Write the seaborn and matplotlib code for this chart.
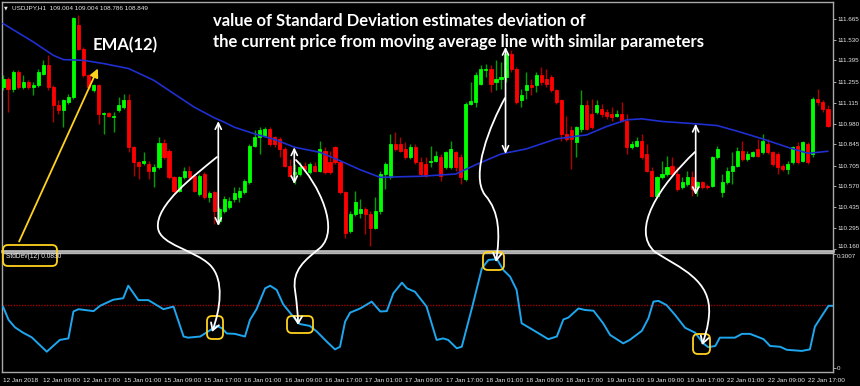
import numpy as np
import pandas as pd
import seaborn as sns
import matplotlib.pyplot as plt
from matplotlib.path import Path
from matplotlib.patches import FancyArrowPatch, FancyBboxPatch

# -----------------------
# Data (USDJPY H1)
# -----------------------
opens = [111.220, 111.275, 111.209, 111.319, 111.220, 111.253, 111.220, 111.231, 111.308, 111.363,
         111.220, 111.100, 111.067, 111.122, 111.155, 111.625, 111.472, 111.297, 111.198, 111.231,
         111.041, 111.050, 111.023, 111.067, 111.089, 111.133, 110.826, 110.728, 110.721, 110.717,
         110.673, 110.695, 110.852, 110.804, 110.629, 110.541, 110.629, 110.673, 110.640, 110.519,
         110.651, 110.498, 110.530, 110.344, 110.410, 110.432, 110.487, 110.502, 110.530, 110.596,
         110.837, 110.892, 110.903, 110.947, 110.892, 110.881, 110.815, 110.706, 110.651, 110.651,
         110.706, 110.662, 110.706, 110.673, 110.804, 110.728, 110.826, 110.728, 110.530, 110.279,
         110.388, 110.399, 110.421, 110.388, 110.300, 110.410, 110.651, 110.629, 110.848, 110.848,
         110.815, 110.760, 110.826, 110.728, 110.717, 110.728, 110.738, 110.760, 110.695, 110.695,
         110.793, 110.760, 110.618, 111.111, 111.122, 111.242, 111.330, 111.341, 111.253, 111.275,
         111.286, 111.439, 111.341, 111.133, 111.198, 111.231, 111.231, 111.297, 111.275, 111.286,
         111.198, 111.133, 110.914, 110.936, 110.859, 110.947, 111.100, 111.045, 111.056, 111.078,
         111.056, 111.045, 111.034, 111.045, 111.001, 110.826, 110.837, 110.870, 110.782, 110.673,
         110.508, 110.629, 110.651, 110.706, 110.651, 110.563, 110.585, 110.629, 110.563, 110.596,
         110.574, 110.574, 110.760, 110.530, 110.596, 110.673, 110.706, 110.804, 110.749, 110.771,
         110.815, 110.793, 110.848, 110.793, 110.782, 110.706, 110.684, 110.728, 110.837, 110.738,
         110.848, 110.782, 111.144, 111.122, 111.078]
closes = [111.275, 111.209, 111.319, 111.220, 111.253, 111.220, 111.231, 111.319, 111.363, 111.220,
          111.100, 111.067, 111.133, 111.155, 111.669, 111.472, 111.297, 111.220, 111.231, 111.045,
          111.050, 111.028, 111.032, 111.100, 111.133, 110.826, 110.728, 110.706, 110.738, 110.673,
          110.695, 110.852, 110.760, 110.629, 110.541, 110.629, 110.673, 110.629, 110.541, 110.640,
          110.498, 110.524, 110.410, 110.421, 110.487, 110.476, 110.524, 110.541, 110.607, 110.837,
          110.896, 110.936, 110.947, 110.848, 110.848, 110.815, 110.706, 110.640, 110.662, 110.695,
          110.684, 110.717, 110.673, 110.815, 110.662, 110.662, 110.728, 110.530, 110.268, 110.388,
          110.465, 110.421, 110.388, 110.300, 110.410, 110.651, 110.717, 110.848, 110.815, 110.804,
          110.760, 110.826, 110.728, 110.651, 110.640, 110.738, 110.771, 110.640, 110.793, 110.815,
          110.695, 110.629, 111.111, 111.126, 111.297, 111.341, 111.341, 111.242, 111.275, 111.286,
          111.439, 111.341, 111.122, 111.166, 111.231, 111.220, 111.297, 111.253, 111.242, 111.198,
          111.122, 110.914, 110.881, 110.881, 110.957, 111.100, 110.947, 110.957, 111.100, 111.045,
          111.034, 111.023, 111.045, 111.001, 110.826, 110.848, 110.870, 110.760, 110.673, 110.508,
          110.629, 110.651, 110.695, 110.651, 110.552, 110.596, 110.629, 110.552, 110.596, 110.563,
          110.563, 110.760, 110.815, 110.596, 110.673, 110.706, 110.804, 110.749, 110.782, 110.793,
          110.771, 110.870, 110.793, 110.717, 110.695, 110.684, 110.717, 110.826, 110.728, 110.859,
          110.728, 111.144, 111.122, 111.078, 110.968]
highs = [111.297, 111.286, 111.330, 111.330, 111.297, 111.264, 111.253, 111.341, 111.395, 111.428,
         111.231, 111.133, 111.144, 111.177, 111.680, 111.691, 111.483, 111.308, 111.242, 111.242,
         111.056, 111.056, 111.056, 111.155, 111.177, 111.177, 110.837, 110.738, 110.793, 110.738,
         110.717, 110.892, 110.881, 110.815, 110.640, 110.640, 110.695, 110.706, 110.651, 110.651,
         110.662, 110.541, 110.541, 110.432, 110.508, 110.498, 110.563, 110.563, 110.618, 110.848,
         110.936, 110.957, 110.957, 110.957, 110.903, 110.892, 110.826, 110.749, 110.717, 110.728,
         110.728, 110.728, 110.728, 110.870, 110.826, 110.804, 110.837, 110.738, 110.541, 110.410,
         110.541, 110.487, 110.432, 110.410, 110.498, 110.673, 110.728, 110.914, 110.925, 110.892,
         110.859, 110.848, 110.848, 110.760, 110.760, 110.837, 110.804, 110.782, 110.804, 110.870,
         110.804, 110.782, 111.122, 111.253, 111.319, 111.363, 111.374, 111.363, 111.395, 111.385,
         111.450, 111.461, 111.352, 111.209, 111.319, 111.275, 111.319, 111.352, 111.341, 111.297,
         111.209, 111.144, 111.034, 110.968, 110.968, 111.198, 111.133, 111.144, 111.133, 111.111,
         111.078, 111.089, 111.067, 111.122, 111.045, 110.870, 110.892, 110.914, 110.848, 110.695,
         110.640, 110.738, 110.771, 110.760, 110.695, 110.629, 110.673, 110.673, 110.607, 110.607,
         110.585, 110.771, 110.837, 110.651, 110.695, 110.793, 110.826, 110.870, 110.804, 110.804,
         110.881, 110.914, 110.881, 110.804, 110.793, 110.717, 110.738, 110.837, 110.859, 110.870,
         110.859, 111.155, 111.209, 111.133, 111.100]
lows = [111.198, 111.056, 111.187, 111.209, 111.209, 111.209, 111.166, 111.220, 111.297, 111.198,
        110.990, 111.045, 110.957, 111.111, 111.144, 111.461, 111.286, 111.209, 111.187, 110.979,
        110.914, 111.023, 110.925, 111.056, 111.078, 110.793, 110.640, 110.618, 110.712, 110.618,
        110.563, 110.684, 110.749, 110.618, 110.519, 110.530, 110.618, 110.618, 110.530, 110.508,
        110.487, 110.465, 110.322, 110.322, 110.399, 110.421, 110.465, 110.465, 110.519, 110.585,
        110.826, 110.782, 110.892, 110.837, 110.826, 110.760, 110.695, 110.629, 110.585, 110.640,
        110.673, 110.651, 110.662, 110.662, 110.651, 110.651, 110.717, 110.519, 110.235, 110.268,
        110.377, 110.366, 110.257, 110.180, 110.290, 110.388, 110.552, 110.618, 110.804, 110.793,
        110.749, 110.749, 110.717, 110.640, 110.629, 110.695, 110.728, 110.607, 110.684, 110.684,
        110.673, 110.585, 110.607, 111.100, 111.089, 111.231, 111.286, 111.187, 111.198, 111.209,
        111.253, 111.319, 111.111, 111.089, 111.144, 111.166, 111.187, 111.231, 111.220, 111.187,
        111.111, 110.870, 110.870, 110.684, 110.760, 110.925, 110.936, 110.947, 111.045, 111.023,
        111.012, 111.001, 111.023, 110.990, 110.782, 110.815, 110.826, 110.749, 110.662, 110.498,
        110.498, 110.618, 110.640, 110.640, 110.541, 110.552, 110.574, 110.508, 110.508, 110.552,
        110.552, 110.563, 110.749, 110.498, 110.585, 110.585, 110.695, 110.738, 110.738, 110.760,
        110.760, 110.782, 110.782, 110.706, 110.651, 110.673, 110.651, 110.717, 110.717, 110.728,
        110.717, 110.760, 111.100, 111.056, 110.957]

# moving average line, sampled along the bars
ema_bar = [0, 6, 10, 12, 16, 20, 25, 30, 33, 38, 42, 44, 46, 50, 54, 58, 63, 67, 71, 75,
           79, 83, 90, 94, 99, 104, 110, 116, 120, 124, 127, 131, 138, 142, 146, 151, 156, 160, 162, 164]
ema_val = [111.636, 111.516, 111.428, 111.400, 111.395, 111.374, 111.341, 111.264, 111.198, 111.089,
           111.019, 110.990, 110.957, 110.914, 110.877, 110.826, 110.793, 110.738, 110.679, 110.629,
           110.633, 110.636, 110.651, 110.712, 110.782, 110.815, 110.881, 110.907, 110.962, 111.006,
           111.012, 110.995, 110.979, 110.968, 110.931, 110.881, 110.826, 110.787, 110.793, 110.800]

# StdDev(12) indicator
sd_bar = [0.0, 1.1, 2.4, 4.0, 5.7, 8.7, 11.3, 13.0, 14.0, 15.0, 18.0, 19.3, 21.9, 23.9, 24.9, 26.9,
          28.9, 31.9, 33.9, 35.9, 36.8, 39.2, 41.2, 42.5, 43.5, 44.5, 46.1, 48.1, 49.1, 50.4, 52.1,
          53.1, 54.4, 55.7, 57.4, 59.0, 61.0, 62.4, 64.4, 66.0, 67.0, 68.0, 69.0, 71.0, 73.3, 75.0,
          76.3, 77.6, 79.3, 80.3, 81.9, 84.2, 86.2, 87.5, 88.5, 90.2, 91.2, 93.2, 95.2, 96.5, 98.2,
          99.5, 100.8, 102.1, 103.1, 105.4, 108.4, 110.1, 111.4, 112.4, 114.4, 115.7, 117.4, 119.3,
          120.7, 123.3, 124.6, 127.0, 128.3, 129.3, 130.3, 131.9, 133.6, 135.6, 137.6, 139.2, 140.2,
          141.6, 142.5, 145.5, 146.9, 148.5, 151.2, 152.5, 154.5, 155.8, 158.8, 160.4, 161.4, 163.1,
          164.1, 165.0]
sd_val = [0.162, 0.127, 0.107, 0.093, 0.081, 0.043, 0.074, 0.078, 0.149, 0.155, 0.150, 0.164,
          0.180, 0.184, 0.217, 0.179, 0.179, 0.155, 0.162, 0.083, 0.080, 0.083, 0.100, 0.111,
          0.105, 0.091, 0.090, 0.083, 0.127, 0.155, 0.210, 0.217, 0.206, 0.168, 0.140, 0.116,
          0.111, 0.096, 0.069, 0.049, 0.056, 0.122, 0.146, 0.157, 0.175, 0.149, 0.150, 0.197,
          0.225, 0.210, 0.201, 0.162, 0.074, 0.078, 0.074, 0.052, 0.056, 0.157, 0.263, 0.285,
          0.287, 0.258, 0.241, 0.206, 0.118, 0.100, 0.076, 0.083, 0.128, 0.133, 0.157, 0.153,
          0.151, 0.118, 0.087, 0.065, 0.074, 0.098, 0.131, 0.175, 0.177, 0.166, 0.140, 0.106,
          0.093, 0.065, 0.055, 0.058, 0.080, 0.080, 0.090, 0.090, 0.076, 0.058, 0.056, 0.048,
          0.045, 0.049, 0.109, 0.144, 0.164, 0.164]
sd_level = 0.165

price_ticks = [111.665, 111.530, 111.395, 111.255, 111.115, 110.980, 110.845, 110.705,
               110.570, 110.435, 110.295, 110.160]
time_ticks = [0, 8, 16, 24, 32, 40, 48, 56, 64, 72, 80, 88, 96, 104, 112, 120, 128, 136, 144, 152, 160]
time_labels = ["12 Jan 2018", "12 Jan 09:00", "12 Jan 17:00", "15 Jan 01:00", "15 Jan 09:00",
               "15 Jan 17:00", "16 Jan 01:00", "16 Jan 09:00", "16 Jan 17:00", "17 Jan 01:00",
               "17 Jan 09:00", "17 Jan 17:00", "18 Jan 01:00", "18 Jan 09:00", "18 Jan 17:00",
               "19 Jan 01:00", "19 Jan 09:00", "19 Jan 17:00", "22 Jan 01:00", "22 Jan 09:00",
               "22 Jan 17:00"]

# double arrows EMA -> price extreme
arrow_bar = [42.8, 57.9, 99.9, 137.7]
arrow_top = [110.997, 110.826, 111.483, 110.980]
arrow_bot = [110.311, 110.585, 110.783, 110.513]

# -----------------------
# Setup
# -----------------------
sns.set_style("dark", {"axes.facecolor": "black", "figure.facecolor": "black",
                       "axes.edgecolor": "#a0a0a0", "grid.color": "black"})
plt.rcParams["font.family"] = ["Liberation Sans", "DejaVu Sans"]

fig = plt.figure(figsize=(8.6, 3.86), dpi=100)
fig.patch.set_facecolor("black")
ax1 = fig.add_axes([2 / 860, 1 - 251 / 386, 831 / 860, 249 / 386])
ax2 = fig.add_axes([2 / 860, 1 - 372 / 386, 831 / 860, 119 / 386])

# -----------------------
# Price panel
# -----------------------
df = pd.DataFrame({"open": opens, "high": highs, "low": lows, "close": closes})
df["bar"] = np.arange(len(df))
up = (df["close"] >= df["open"]).to_numpy()
wick_col = np.where(up, "#00a000", "#b00000")
body_col = np.where(up, "#00ff00", "#ff0000")
ax1.vlines(df["bar"], df["low"], df["high"], colors=wick_col, lw=1, zorder=2)
ax1.bar(df["bar"], df["close"] - df["open"], bottom=df["open"], width=0.62,
        color=body_col, edgecolor=body_col, linewidth=0.6, zorder=3)

sns.lineplot(x=ema_bar, y=ema_val, ax=ax1, color="#1f2fd0", lw=1.2, zorder=4)

for b, t, lo in zip(arrow_bar, arrow_top, arrow_bot):
    ax1.annotate("", xy=(b, lo), xytext=(b, t),
                 arrowprops=dict(arrowstyle="<->,head_length=0.45,head_width=0.22",
                                 color="white", lw=1.2, shrinkA=0, shrinkB=0), zorder=6)

ax1.set_xlim(-0.2, 165.0)
ax1.set_ylim(110.147, 111.777)
ax1.set_xticks([])
ax1.yaxis.tick_right()
ax1.set_yticks(price_ticks)
ax1.set_yticklabels([f"{v:.3f}" for v in price_ticks])
ax1.tick_params(axis="y", length=2, width=0.6, color="#c0c0c0", labelcolor="#e8e8e8",
                labelsize=4.5, pad=1)
ax1.get_yticklabels()[-1].set_va("bottom")

# -----------------------
# StdDev panel
# -----------------------
sns.lineplot(x=sd_bar, y=sd_val, ax=ax2, color="#1ea6ee", lw=1.4, zorder=3)
ax2.axhline(sd_level, color="#a00000", ls=(0, (1, 1)), lw=1, zorder=2)
ax2.set_xlim(-0.2, 165.0)
ax2.set_ylim(-0.0106, 0.3033)
ax2.yaxis.tick_right()
ax2.set_yticks([0, 0.3007])
ax2.set_yticklabels(["0", "0.3007"])
ax2.get_yticklabels()[1].set_va("top")
ax2.set_xticks(time_ticks)
ax2.set_xticklabels(time_labels)
for lbl in ax2.get_xticklabels():
    lbl.set_ha("left")
ax2.tick_params(axis="y", length=2, width=0.6, color="#c0c0c0", labelcolor="#e8e8e8",
                labelsize=4.5, pad=1)
ax2.tick_params(axis="x", length=2.5, width=0.6, color="#c0c0c0", labelcolor="#e8e8e8",
                labelsize=4.6, pad=1.5)

for ax in (ax1, ax2):
    ax.grid(False)
    ax.set_xlabel("")
    ax.set_ylabel("")
    for s in ax.spines.values():
        s.set_color("#a8a8a8")
        s.set_linewidth(1.0)
ax1.spines["bottom"].set_linewidth(2.0)
ax1.spines["bottom"].set_color("#b8b8b8")
ax2.spines["top"].set_linewidth(1.0)
ax2.spines["top"].set_color("#b8b8b8")

# -----------------------
# Annotations (figure pixel overlay)
# -----------------------
ov = fig.add_axes([0, 0, 1, 1], zorder=10)
ov.set_xlim(0, 860)
ov.set_ylim(386, 0)
ov.axis("off")

ov.text(4, 7.5, "▼", color="#e8e8e8", fontsize=3.5, va="center", family=["DejaVu Sans"])
ov.text(12, 7.5, "USDJPY,H1  109.004 109.004 108.786 108.849", color="#e8e8e8",
        fontsize=4.6, va="center")
ov.text(6, 256, "StdDev(12) 0.0830", color="#e8e8e8", fontsize=4.8, va="center")

big = dict(color="white", weight="bold", family=["Lato", "DejaVu Sans"])
ov.text(213, 21, "value of Standard Deviation estimates deviation of", fontsize=12,
        va="center", ha="left", **big)
ov.text(213, 42, "the current price from moving average line with similar parameters",
        fontsize=12, va="center", ha="left", **big)
ov.text(93, 45, "EMA(12)", fontsize=12, va="center", ha="left", **big)

yellow = "#ffd21e"
ov.add_patch(FancyArrowPatch((18, 244), (99, 66), arrowstyle="-|>,head_length=0.5,head_width=0.25",
                             mutation_scale=10, color=yellow, lw=1.3))
for (bx, by, bw, bh) in [(3, 245, 54, 21), (207, 316, 16, 23), (287, 316, 26, 17),
                         (483, 252, 21, 18), (693, 334, 17, 20)]:
    ov.add_patch(FancyBboxPatch((bx, by), bw, bh, boxstyle="round,pad=0,rounding_size=5",
                                fill=False, edgecolor=yellow, lw=1.3))

C = Path.CURVE4
curves = [
    [(217, 157), (195, 175), (155, 205), (158, 228), (160, 245), (195, 250), (210, 265),
     (225, 280), (220, 310), (212, 332)],
    [(296, 160), (320, 185), (340, 230), (320, 248), (305, 260), (292, 270), (295, 290),
     (297, 305), (298, 315), (298, 325)],
    [(505, 98), (490, 125), (470, 175), (485, 195), (500, 212), (500, 235), (496, 262)],
    [(695, 152), (660, 185), (630, 230), (655, 252), (680, 268), (712, 280), (709, 315),
     (708, 328), (705, 336), (702, 345)],
]
for verts in curves:
    codes = [Path.MOVETO] + [C] * (len(verts) - 1)
    ov.add_patch(FancyArrowPatch(path=Path(verts, codes),
                                 arrowstyle="->,head_length=0.5,head_width=0.3",
                                 mutation_scale=10, color="white", lw=1.3))

fig.savefig("out.png", dpi=100, facecolor="black")
